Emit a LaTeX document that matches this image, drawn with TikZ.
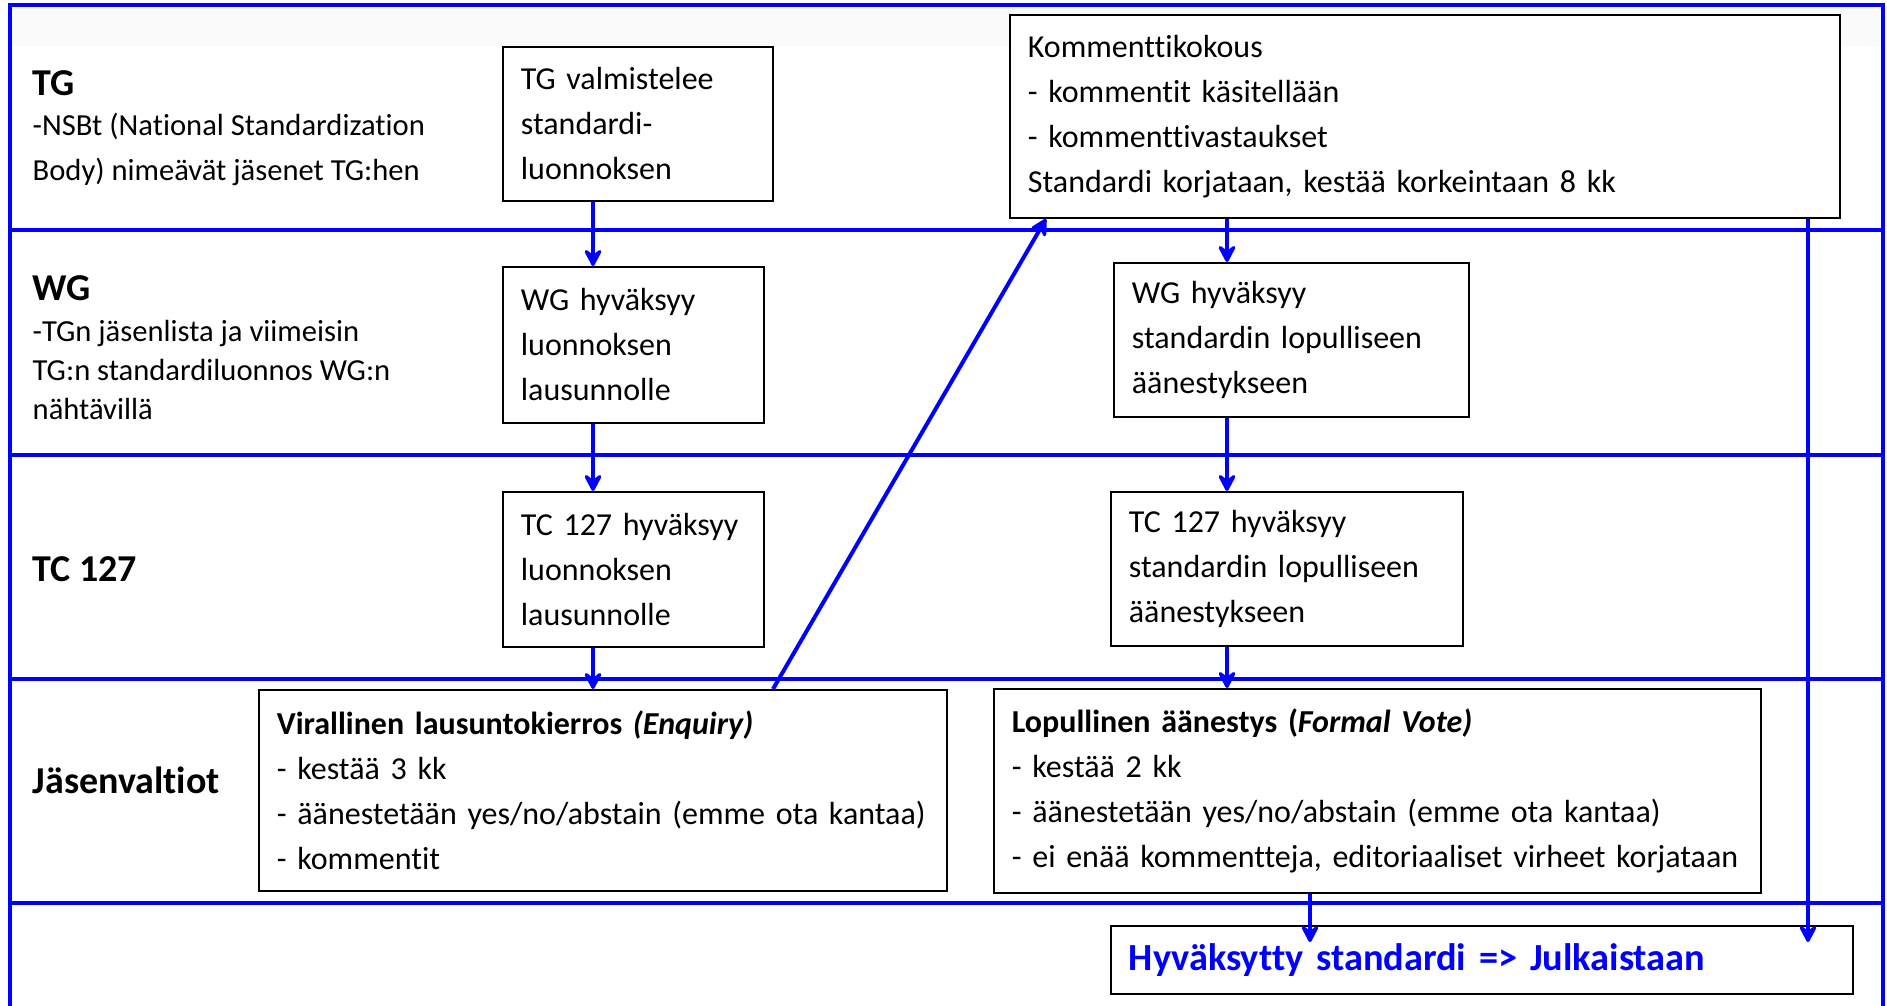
\documentclass[tikz,border=0pt]{standalone}
\usepackage{fontspec}
\setmainfont{Carlito}[Ligatures=NoCommon]
\usepackage{tikz}
\usetikzlibrary{arrows.meta,calc}
\hyphenpenalty=10000
\definecolor{laneblue}{RGB}{0,0,255}
\definecolor{bandgrey}{RGB}{250,250,250}
\tikzset{
  pbox/.style={draw=black,line width=0.18mm,anchor=north west,fill=white,align=left,inner xsep=1.8mm,inner ysep=0pt,font=\fontsize{9.1}{12.8}\selectfont},
  finalbox/.style={pbox,font=\fontsize{10.9}{12}\selectfont\bfseries,text=laneblue},
  lanetitle/.style={anchor=west,inner sep=0pt,font=\fontsize{10.8}{13}\selectfont\bfseries},
  lanetext/.style={anchor=west,inner sep=0pt,align=left,font=\fontsize{8.7}{11.2}\selectfont},
  laneline/.style={draw=laneblue,line width=0.4mm},
  flow/.style={-{Stealth[length=2.2mm,width=2.3mm,inset=0.9mm,round]},line width=0.4mm,draw=laneblue}
}
\begin{document}
\begin{tikzpicture}[x=0.01cm,y=-0.01cm]
  \useasboundingbox (0,0) rectangle (1887,1006);
  \fill[bandgrey] (12,7) rectangle (1881,46);
  % swimlanes
  \draw[laneline,line join=miter] (10,1006) -- (10,5) -- (1883,5) -- (1883,1006);
  \draw[laneline] (10,230) -- (1883,230);
  \draw[laneline] (10,455) -- (1883,455);
  \draw[laneline] (10,679) -- (1883,679);
  \draw[laneline] (10,903) -- (1883,903);
  % lane labels
  \node[lanetitle] (tglab) at (32,83) {TG};
  \node[lanetext,font=\fontsize{8.7}{12.8}\selectfont] (tgtext) at (32,149) {-NSBt (National Standardization\\Body) nimeävät jäsenet TG:hen};
  \node[lanetitle] (wglab) at (32,288) {WG};
  \node[lanetext] (wgtext) at (32,370) {-TGn jäsenlista ja viimeisin\\TG:n standardiluonnos WG:n\\nähtävillä};
  \node[lanetitle] (tclab) at (32,569) {TC 127};
  \node[lanetitle] (jvlab) at (32,780) {Jäsenvaltiot};
  % draft path
  \node[pbox,text width=2.34cm,minimum height=1.54cm] (tgbox) at (502,46) {TG valmistelee\\standardi-\\luonnoksen};
  \node[pbox,text width=2.25cm,minimum height=1.56cm] (wgone) at (502,266) {WG hyväksyy\\luonnoksen\\lausunnolle};
  \node[pbox,text width=2.25cm,minimum height=1.55cm] (tcone) at (502,491) {TC 127 hyväksyy\\luonnoksen\\lausunnolle};
  \node[pbox,text width=6.52cm,minimum height=2.01cm] (enquiry) at (258,689) {\textbf{Virallinen lausuntokierros \textit{(Enquiry)}}\\- kestää 3 kk\\- äänestetään yes/no/abstain (emme ota kantaa)\\- kommentit};
  % final path
  \node[pbox,text width=7.94cm,minimum height=2.03cm] (kommentti) at (1009,14) {Kommenttikokous\\- kommentit käsitellään\\- kommenttivastaukset\\Standardi korjataan, kestää korkeintaan 8 kk};
  \node[pbox,text width=3.19cm,minimum height=1.54cm] (wgtwo) at (1113,262) {WG hyväksyy\\standardin lopulliseen\\äänestykseen};
  \node[pbox,text width=3.16cm,minimum height=1.54cm] (tctwo) at (1110,491) {TC 127 hyväksyy\\standardin lopulliseen\\äänestykseen};
  \node[pbox,text width=7.31cm,minimum height=2.04cm] (formal) at (993,688) {\textbf{Lopullinen äänestys (\textit{Formal Vote)}}\\- kestää 2 kk\\- äänestetään yes/no/abstain (emme ota kantaa)\\- ei enää kommentteja, editoriaaliset virheet korjataan};
  \node[finalbox,text width=7.06cm,minimum height=0.68cm] (final) at (1110,925) {Hyväksytty standardi => Julkaistaan};
  % arrow columns
  \coordinate (colA) at (593,0);
  \coordinate (colB) at (1227,0);
  \coordinate (colC) at (1310,0);
  \coordinate (colD) at (1808,0);
  \coordinate (diagfoot) at (773,0);
  \coordinate (diaghead) at (1046,0);
  \draw[flow] (tgbox.south -| colA) -- (wgone.north -| colA);
  \draw[flow] (wgone.south -| colA) -- (tcone.north -| colA);
  \draw[flow] (tcone.south -| colA) -- (enquiry.north -| colA);
  \draw[flow] (enquiry.north -| diagfoot) -- (kommentti.south -| diaghead);
  \draw[flow] (kommentti.south -| colB) -- (wgtwo.north -| colB);
  \draw[flow] (wgtwo.south -| colB) -- (tctwo.north -| colB);
  \draw[flow] (tctwo.south -| colB) -- (formal.north -| colB);
  \draw[flow,shorten >=-1.7mm] (formal.south -| colC) -- (final.north -| colC);
  \draw[flow,shorten >=-1.7mm] (kommentti.south -| colD) -- (final.north -| colD);
\end{tikzpicture}
\end{document}
